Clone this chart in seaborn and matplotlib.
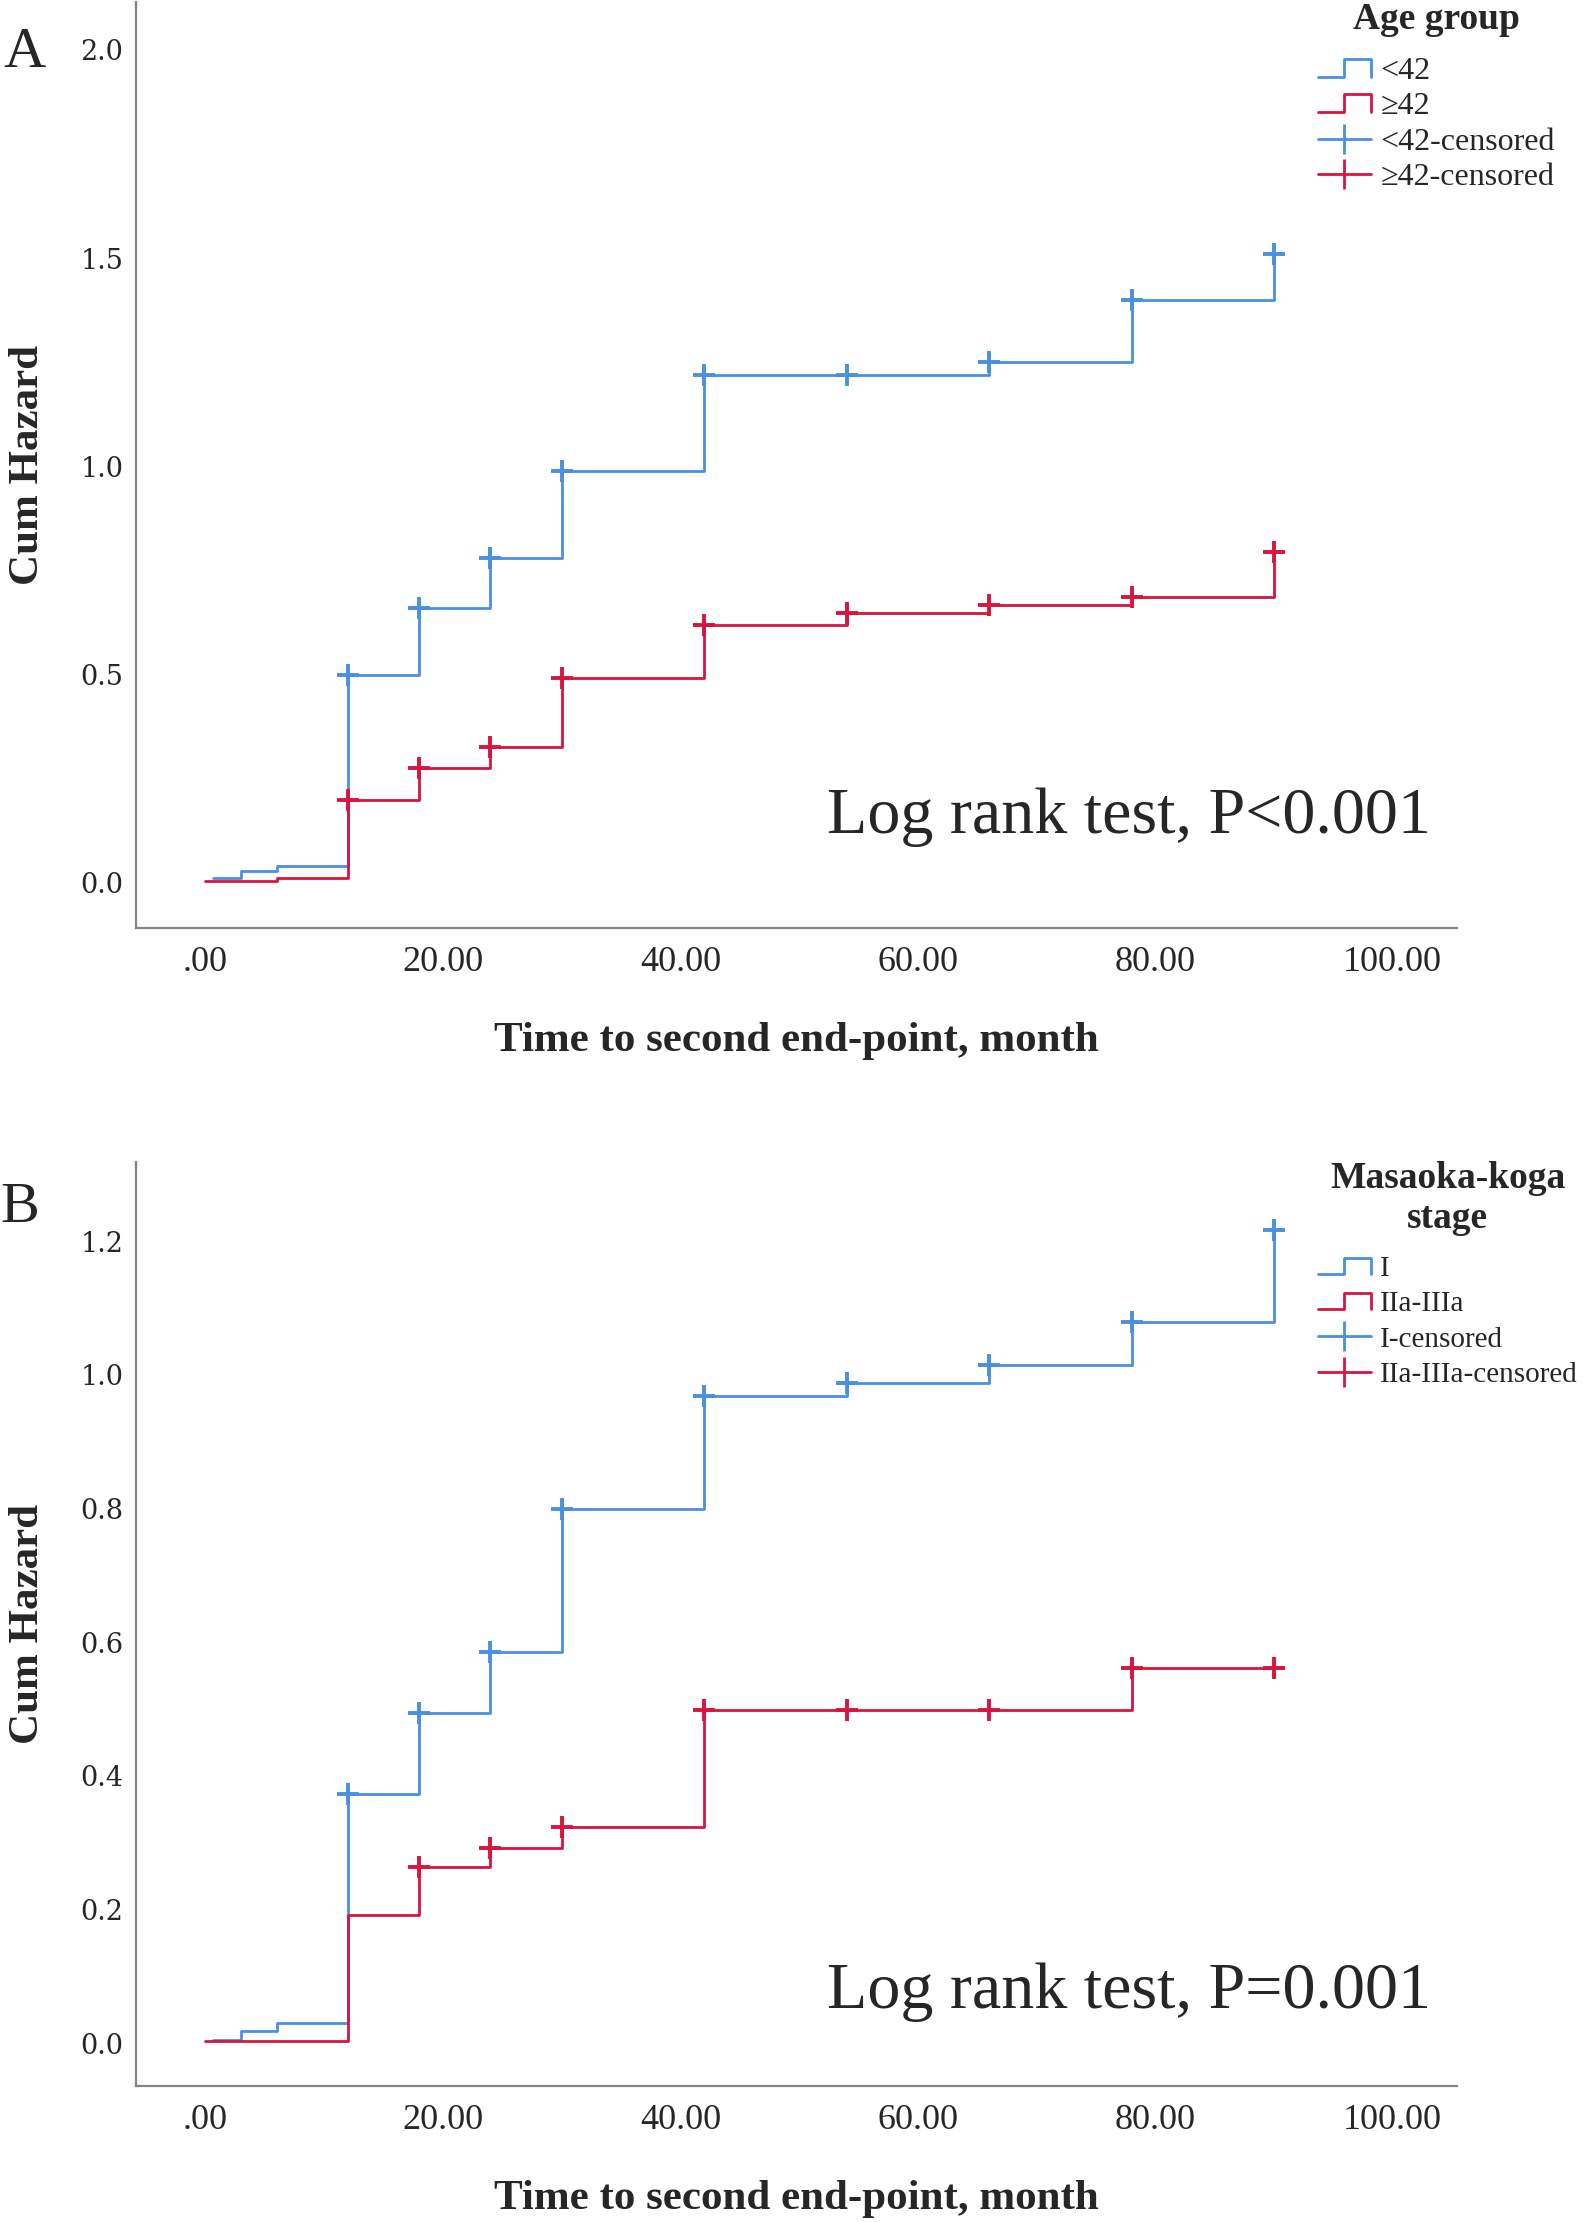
import numpy as np
import pandas as pd
import seaborn as sns
import matplotlib
matplotlib.use("Agg")
import matplotlib.pyplot as plt
from matplotlib.lines import Line2D
from matplotlib.legend_handler import HandlerBase

# ---------------------------------------------------------------
# data (time in months, cumulative hazard)

# panel A : age group
a_young_t = [0.6, 3, 6, 12, 18, 24, 30, 42, 54, 66, 78, 90]
a_young_h = [0.012, 0.029, 0.041, 0.50, 0.66, 0.78, 0.99, 1.22, 1.22, 1.25, 1.40, 1.51]
a_young_cens = [12, 18, 24, 30, 42, 54, 66, 78, 90]

a_old_t = [0, 6, 12, 18, 24, 30, 42, 54, 66, 78, 90]
a_old_h = [0.005, 0.013, 0.20, 0.275, 0.327, 0.493, 0.62, 0.647, 0.667, 0.687, 0.795]
a_old_cens = [12, 18, 24, 30, 42, 54, 66, 78, 90]

# panel B : Masaoka-koga stage
b_one_t = [0.6, 3, 6, 12, 18, 24, 30, 42, 54, 66, 78, 90]
b_one_h = [0.005, 0.018, 0.030, 0.373, 0.494, 0.585, 0.80, 0.968, 0.987, 1.015, 1.079, 1.216]
b_one_cens = [12, 18, 24, 30, 42, 54, 66, 78, 90]

b_adv_t = [0, 12, 18, 24, 30, 42, 54, 66, 78, 90]
b_adv_h = [0.004, 0.192, 0.264, 0.293, 0.323, 0.498, 0.498, 0.498, 0.562, 0.562]
b_adv_cens = [18, 24, 30, 42, 54, 66, 78, 90]

x_ticks = [0, 20, 40, 60, 80, 100]
x_ticklabels = [".00", "20.00", "40.00", "60.00", "80.00", "100.00"]
a_yticks = [0.0, 0.5, 1.0, 1.5, 2.0]
b_yticks = [0.0, 0.2, 0.4, 0.6, 0.8, 1.0, 1.2]

BLUE = "#4a8fe0"
RED = "#d8153f"
SERIF = ["Liberation Serif", "DejaVu Serif"]

sns.set_style("white")
plt.rcParams["font.family"] = SERIF


class StepHandler(HandlerBase):
    # little step icon like the SPSS legend
    def create_artists(self, legend, orig_handle, xdescent, ydescent,
                       width, height, fontsize, trans):
        x0, y0 = -xdescent, -ydescent
        xs = [x0, x0 + 0.5 * width, x0 + 0.5 * width, x0 + width, x0 + width]
        ys = [y0 + 0.1 * height, y0 + 0.1 * height, y0 + 0.9 * height,
              y0 + 0.9 * height, y0 + 0.1 * height]
        ln = Line2D(xs, ys, color=orig_handle.get_color(),
                    lw=orig_handle.get_linewidth())
        ln.set_transform(trans)
        return [ln]


def censored_points(t, h, cens):
    lookup = dict(zip(t, h))
    return pd.DataFrame({"t": cens, "h": [lookup[c] for c in cens]})


def draw_panel(ax, groups, ylim, yticks, ptext):
    for t, h, cens, col in groups:
        df = pd.DataFrame({"t": t, "h": h})
        sns.lineplot(data=df, x="t", y="h", ax=ax, color=col, lw=2.0,
                     drawstyle="steps-post", estimator=None, sort=False)
        cp = censored_points(t, h, cens)
        sns.scatterplot(data=cp, x="t", y="h", ax=ax, color=col, marker="+",
                        s=230, linewidth=2.8, zorder=4)
    ax.set_xlim(-5.85, 105.4)
    ax.set_ylim(*ylim)
    ax.set_xticks(x_ticks)
    ax.set_xticklabels(x_ticklabels, fontsize=26, family=SERIF)
    ax.set_yticks(yticks)
    ax.set_yticklabels([f"{v:.1f}" for v in yticks], fontsize=19.5,
                       family=["DejaVu Serif", "Liberation Serif"])
    ax.tick_params(axis="both", length=0)
    ax.tick_params(axis="x", pad=13)
    ax.tick_params(axis="y", pad=9)
    ax.set_xlabel("Time to second end-point, month", fontsize=31,
                  fontweight="bold", labelpad=31)
    ax.set_ylabel("Cum Hazard", fontsize=31, fontweight="bold", labelpad=24)
    for side in ["top", "right"]:
        ax.spines[side].set_visible(False)
    for side in ["left", "bottom"]:
        ax.spines[side].set_color("#858585")
        ax.spines[side].set_linewidth(1.6)
    ax.text(103.2, ptext[1], ptext[0], ha="right", va="baseline", fontsize=47.5)


fig = plt.figure(figsize=(15.9, 22.22), dpi=100)
ax_a = fig.add_axes([0.0855, 0.5824, 0.8308, 0.4167])
ax_b = fig.add_axes([0.0855, 0.0612, 0.8308, 0.4158])

draw_panel(ax_a, [(a_young_t, a_young_h, a_young_cens, BLUE),
                  (a_old_t, a_old_h, a_old_cens, RED)],
           (-0.108, 2.115), a_yticks, ("Log rank test, P<0.001", 0.12))
draw_panel(ax_b, [(b_one_t, b_one_h, b_one_cens, BLUE),
                  (b_adv_t, b_adv_h, b_adv_cens, RED)],
           (-0.0636, 1.318), b_yticks, ("Log rank test, P=0.001", 0.053))


def add_legend(ax, title, labels, top, size, spacing):
    step_b = Line2D([], [], color=BLUE, lw=2)
    step_r = Line2D([], [], color=RED, lw=2)
    cen_b = Line2D([], [], color=BLUE, lw=2, marker="|", markersize=21, mew=2)
    cen_r = Line2D([], [], color=RED, lw=2, marker="|", markersize=21, mew=2)
    leg = ax.legend([step_b, step_r, cen_b, cen_r], labels, title=title,
                    loc="upper left", bbox_to_anchor=(0.829, top),
                    bbox_transform=fig.transFigure, frameon=False,
                    borderpad=0, borderaxespad=0, handlelength=1.65 * 23 / size,
                    handletextpad=0.3, labelspacing=spacing,
                    prop={"family": SERIF, "size": size},
                    title_fontproperties={"family": SERIF, "size": 27,
                                          "weight": "bold"},
                    handler_map={step_b: StepHandler(), step_r: StepHandler()})
    leg.get_title().set_multialignment("center")
    leg._legend_box.align = "center"
    leg._legend_box.sep = 14
    return leg


add_legend(ax_a, "Age group", ["<42", "\u226542", "<42-censored", "\u226542-censored"],
           0.999, 23, 0.19)
add_legend(ax_b, "Masaoka-koga\nstage", ["I", "IIa-IIIa", "I-censored", "IIa-IIIa-censored"],
           0.4775, 21, 0.3)

fig.text(0.002, 0.988, "A", fontsize=42, va="top", ha="left")
fig.text(0.0, 0.468, "B", fontsize=42, va="top", ha="left")

plt.savefig("out.png", dpi=100)
